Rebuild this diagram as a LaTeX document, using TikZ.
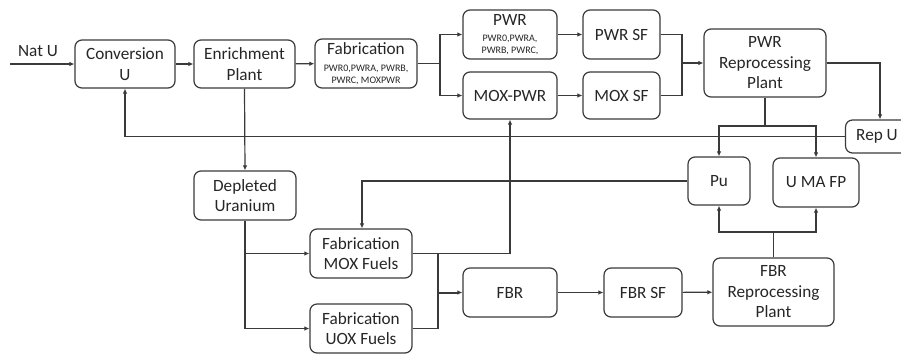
\documentclass[tikz,border=0pt]{standalone}
\usepackage{fontspec}
\setmainfont{Carlito}
\usetikzlibrary{arrows.meta}
\definecolor{ln}{HTML}{3A3A3A}
\tikzset{
  box/.style={draw=ln, line width=1.2pt, rounded corners=7pt, align=center, inner sep=0pt,
    font=\fontsize{17.2}{20.5}\selectfont, text=black!85},
  con/.style={draw=ln, line width=1.2pt},
  arr/.style={con, -{Latex[length=5pt,width=4.5pt]}},
}
\newcommand{\smalltxt}{\fontsize{10}{10.5}\selectfont}
\begin{document}
\begin{tikzpicture}[x=1pt,y=-1pt]
\useasboundingbox (0,0) rectangle (901,354);
% boxes
\node[box, minimum width=100pt, minimum height=48pt] (conv) at (125,64) {Conversion\\U};
\node[box, minimum width=101pt, minimum height=48pt] (enr) at (244.5,64) {Enrichment\\Plant};
\node[box, minimum width=102pt, minimum height=49pt] (fab) at (366,63.5) {Fabrication\\[-3pt]{\smalltxt PWR0,PWRA, PWRB,}\\[-9pt]{\smalltxt PWRC, MOXPWR}};
\node[box, minimum width=94pt, minimum height=49pt] (pwr) at (510,34.5) {PWR\\[-4pt]{\smalltxt PWR0,PWRA,}\\[-9pt]{\smalltxt PWRB, PWRC,}};
\node[box, minimum width=94pt, minimum height=47pt] (moxpwr) at (510,95.5) {MOX-PWR};
\node[box, minimum width=77pt, minimum height=49pt] (pwrsf) at (621.5,34.5) {PWR SF};
\node[box, minimum width=77pt, minimum height=47pt] (moxsf) at (621.5,95.5) {MOX SF};
\node[box, minimum width=122pt, minimum height=68pt] (pwrrep) at (765,63) {PWR\\Reprocessing\\Plant};
\node[box, minimum width=63pt, minimum height=33pt] (repu) at (877,136.5) {Rep U};
\node[box, minimum width=62pt, minimum height=48pt] (pu) at (719,181) {Pu};
\node[box, minimum width=86pt, minimum height=49pt] (umafp) at (816,182.5) {U MA FP};
\node[box, minimum width=102pt, minimum height=49pt] (dep) at (245,195.5) {Depleted\\Uranium};
\node[box, minimum width=102pt, minimum height=49pt] (fmox) at (361,253.5) {Fabrication\\MOX Fuels};
\node[box, minimum width=102pt, minimum height=49pt] (fuox) at (361,328.5) {Fabrication\\UOX Fuels};
\node[box, minimum width=94pt, minimum height=49pt] (fbr) at (510,292.5) {FBR};
\node[box, minimum width=78pt, minimum height=49pt] (fbrsf) at (643,292.5) {FBR SF};
\node[box, minimum width=121pt, minimum height=68pt] (fbrrep) at (773.5,292) {FBR\\Reprocessing\\Plant};
% labels and coordinates
\coordinate (natin) at (10,64);
\node[font=\fontsize{17.2}{20.5}\selectfont, text=black!85, inner sep=0pt] (natu) at (38,51) {Nat U};
\coordinate (j1) at (440,63.5);
\coordinate (j2) at (682,63);
\coordinate (j3) at (765,126);
\coordinate (j4) at (773.5,232);
\coordinate (j5) at (438,292.5);
\coordinate (j6) at (245,253.5);
% connectors
\draw[arr] (natin) -- (conv.west);
\draw[arr] (conv) -- (enr);
\draw[arr] (enr) -- (fab);
\draw[con] (fab.east) -- (j1);
\draw[arr] (j1) |- (pwr.west);
\draw[arr] (j1) |- (moxpwr.west);
\draw[arr] (pwr) -- (pwrsf);
\draw[arr] (moxpwr) -- (moxsf);
\draw[con] (pwrsf.east) -| (j2) |- (moxsf.east);
\draw[arr] (j2) -- (pwrrep.west);
\draw[arr] (pwrrep.east) -| ([xshift=3pt]repu.north);
\draw[arr] (repu.west) -| (conv.south);
\draw[con] (pwrrep.south) -- (j3);
\draw[arr] (j3) -| (pu.north);
\draw[arr] (j3) -| (umafp.north);
\draw[arr] (pu.west) -| ([xshift=1pt]fmox.north);
\draw[arr] (enr.south) -- (dep.north);
\draw[arr] (dep.south) |- (fuox.west);
\draw[arr] (j6) -- (fmox.west);
\draw[arr] (fmox.east) -| (moxpwr.south);
\draw[con] (fuox.east) -| (j5) -- (j5 |- fmox.east);
\draw[arr, line width=2pt] (j5) -- (fbr.west);
\draw[arr] (fbr) -- (fbrsf);
\draw[arr] (fbrsf) -- (fbrrep);
\draw[con] (fbrrep.north) -- (j4);
\draw[arr] (j4) -| (pu.south);
\draw[arr] (j4) -| (umafp.south);
\end{tikzpicture}
\end{document}
